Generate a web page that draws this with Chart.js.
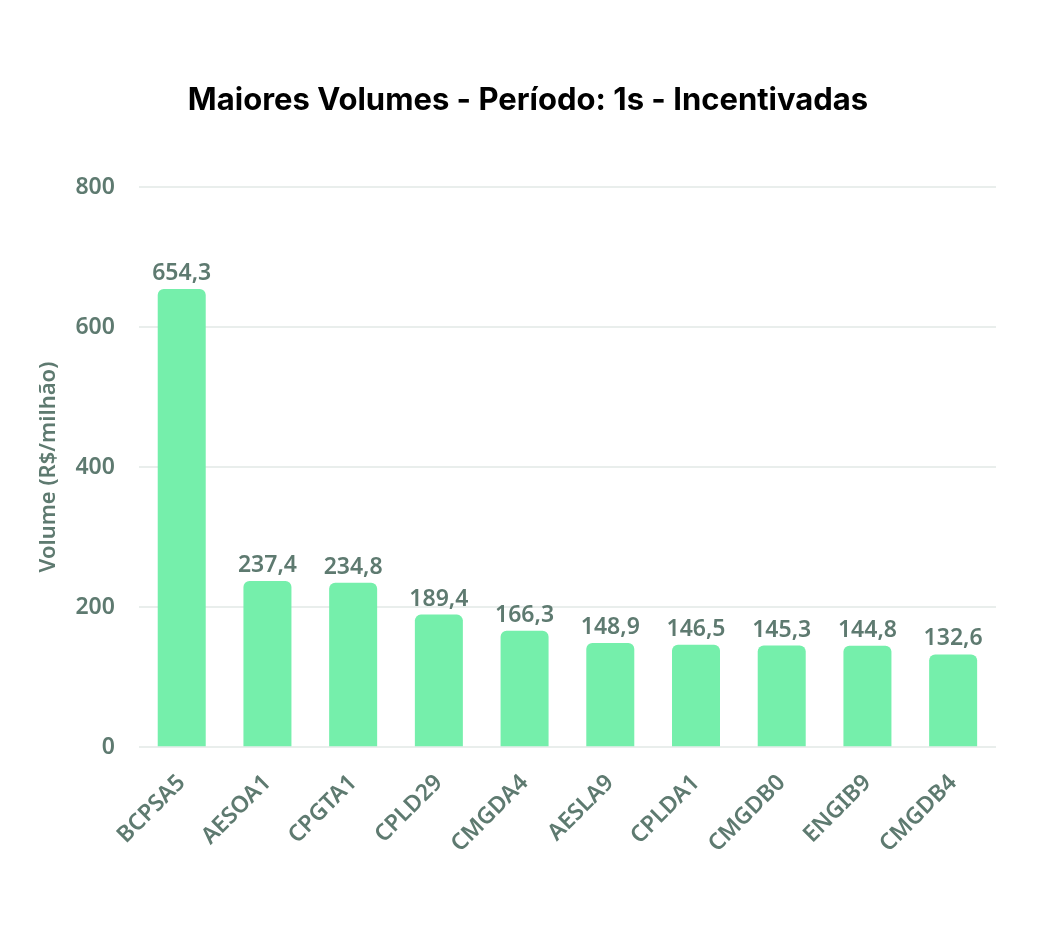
<!DOCTYPE html>
<html><head><meta charset="utf-8">
<script src="https://cdn.jsdelivr.net/npm/chart.js@4"></script>
<style>html,body{margin:0;padding:0;background:#fff}#wrap{width:1056px;height:948px;position:relative}</style>
</head><body><div id="wrap"><canvas id="c"></canvas></div>
<script>
const categories = ["BCPSA5","AESOA1","CPGTA1","CPLD29","CMGDA4","AESLA9","CPLDA1","CMGDB0","ENGIB9","CMGDB4"];
const volumes = [654.3,237.4,234.8,189.4,166.3,148.9,146.5,145.3,144.8,132.6];
const yTicks = [0,200,400,600,800];
const titleText = "Maiores Volumes - Período: 1s - Incentivadas";
const txt = "#5e7a70";
const fam = "'Noto Sans'";
const labelPlugin = {
  id:"labels",
  afterDatasetsDraw(chart){
    const ctx = chart.ctx;
    const meta = chart.getDatasetMeta(0);
    ctx.save();
    ctx.fillStyle = txt;
    ctx.font = "600 23px " + fam;
    ctx.textAlign = "center";
    ctx.textBaseline = "bottom";
    meta.data.forEach((b,i)=>{
      ctx.fillText(volumes[i].toFixed(1).replace(".",","), b.x, b.y-4);
    });
    ctx.restore();
  },
  afterDraw(chart){
    const ctx = chart.ctx;
    ctx.save();
    ctx.fillStyle = "#000";
    ctx.font = "bold 31px Inter";
    ctx.textAlign = "center";
    ctx.textBaseline = "middle";
    ctx.fillText(titleText, chart.width/2, 101);
    ctx.restore();
  }
};
new Chart(document.getElementById("c"),{
  type:"bar",
  data:{labels:categories,datasets:[{data:volumes,backgroundColor:"#75efab",borderRadius:{topLeft:6,topRight:6},borderSkipped:"bottom",barPercentage:0.7,categoryPercentage:0.8}]},
  options:{
    responsive:true,maintainAspectRatio:false,animation:false,devicePixelRatio:1,
    layout:{padding:{left:36,right:60,top:187,bottom:76}},
    plugins:{
      legend:{display:false},tooltip:{enabled:false},title:{display:false}
    },
    scales:{
      x:{grid:{display:false},border:{display:false},ticks:{color:txt,font:{family:fam,size:23,weight:600},maxRotation:45,minRotation:45,padding:14}},
      y:{min:0,max:800,afterBuildTicks(s){s.ticks=yTicks.map(v=>({value:v}));},
        grid:{color:"#e9eeec",lineWidth:2,drawTicks:false},border:{display:false},
        ticks:{color:txt,font:{family:fam,size:23,weight:600},padding:24},
        title:{display:true,text:"Volume (R$/milhão)",color:txt,font:{family:fam,size:22,weight:600},padding:{top:0,bottom:-11}}}
    }
  },
  plugins:[labelPlugin]
});
</script></body></html>
